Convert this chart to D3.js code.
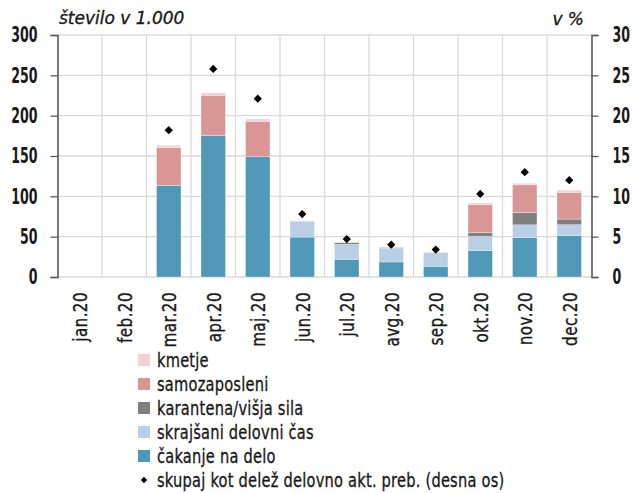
<!DOCTYPE html>
<html>
<head>
<meta charset="utf-8">
<script src="https://cdn.jsdelivr.net/npm/d3@7"></script>
<style>
  body { margin: 0; background: #fff; }
  svg { display: block; }
  text { font-family: "DejaVu Sans", sans-serif; fill: #1a1a1a; }
  .heavy { stroke: #1a1a1a; stroke-width: 0.35px; }
</style>
</head>
<body>
<div id="chart"></div>
<script>
// data
const months = ["jan.20", "feb.20", "mar.20", "apr.20", "maj.20", "jun.20", "jul.20", "avg.20", "sep.20", "okt.20", "nov.20", "dec.20"];
const cakanje = [0, 0, 113.5, 175.5, 149, 49.5, 22, 18.6, 13.2, 33, 48.7, 51.6];
const skrajsani = [0, 0, 0, 0, 0, 19.8, 18.5, 17, 16, 17.3, 16, 13.2];
const karantena = [0, 0, 0, 0, 0, 0, 2, 0.8, 0.8, 5, 15.3, 7];
const samozaposleni = [0, 0, 47, 49.8, 44, 0, 0, 0, 0, 34.3, 34.2, 33];
const kmetje = [0, 0, 2.9, 2.9, 2.9, 0.5, 0, 0, 0, 2.4, 2.1, 2.9];
const skupaj = [null, null, 18.2, 25.8, 22.1, 7.8, 4.7, 4.0, 3.4, 10.3, 13.0, 12.0];
const leftTicks = [0, 50, 100, 150, 200, 250, 300];
const rightTicks = [0, 5, 10, 15, 20, 25, 30];

const seriesKeys = ["cakanje", "skrajsani", "karantena", "samozaposleni", "kmetje"];
const seriesNames = {
  kmetje: "kmetje",
  samozaposleni: "samozaposleni",
  karantena: "karantena/višja sila",
  skrajsani: "skrajšani delovni čas",
  cakanje: "čakanje na delo"
};
const colors = {
  cakanje: "#4f98b8",
  skrajsani: "#b9cfe6",
  karantena: "#7f7f7f",
  samozaposleni: "#d99694",
  kmetje: "#f2d2d4"
};

const width = 633, height = 493;
const margin = {top: 35, right: 41.5, bottom: 216, left: 57.5};
const innerH = height - margin.top - margin.bottom;

// no condensed font installed, so texts get squeezed horizontally
const tickSqueeze = 0.6, labelSqueeze = 0.8, legendSqueeze = 0.75;

const svg = d3.select("#chart").append("svg")
  .attr("width", width)
  .attr("height", height);

const table = months.map((m, i) => ({
  month: m,
  cakanje: cakanje[i],
  skrajsani: skrajsani[i],
  karantena: karantena[i],
  samozaposleni: samozaposleni[i],
  kmetje: kmetje[i],
  skupaj: skupaj[i]
}));

const x = d3.scaleBand()
  .domain(months)
  .range([margin.left, width - margin.right])
  .paddingInner(0).paddingOuter(0);

const y = d3.scaleLinear().domain([0, 300]).range([margin.top + innerH, margin.top]);
const y2 = d3.scaleLinear().domain([0, 30]).range([margin.top + innerH, margin.top]);

// grid
const grid = svg.append("g").attr("stroke", "#dadada").attr("stroke-width", 1.3);
grid.selectAll("line.h").data(leftTicks).enter().append("line")
  .attr("x1", margin.left).attr("x2", width - margin.right)
  .attr("y1", d => y(d)).attr("y2", d => y(d));
grid.selectAll("line.v").data(months.slice(1)).enter().append("line")
  .attr("x1", d => x(d)).attr("x2", d => x(d))
  .attr("y1", margin.top).attr("y2", y(0));

// stacked bars
const stack = d3.stack().keys(seriesKeys);
const layers = stack(table);
const barW = x.bandwidth() * 0.55;

svg.append("g").selectAll("g")
  .data(layers)
  .enter().append("g")
  .attr("fill", d => colors[d.key])
  .selectAll("rect")
  .data(d => d)
  .enter().append("rect")
  .attr("x", d => x(d.data.month) + (x.bandwidth() - barW) / 2)
  .attr("y", d => y(d[1]))
  .attr("width", barW)
  .attr("height", d => Math.max(0, y(d[0]) - y(d[1])))
  .attr("stroke", "#fff")
  .attr("stroke-width", 0.5)
  .attr("stroke-opacity", 0.6);

// diamonds on right axis scale
const diamond = d3.symbol().type(d3.symbolSquare).size(34);
svg.append("g").selectAll("path")
  .data(table.filter(d => d.skupaj != null))
  .enter().append("path")
  .attr("d", diamond)
  .attr("fill", "#000")
  .attr("transform", d => "translate(" + (x(d.month) + x.bandwidth() / 2) + "," + y2(d.skupaj) + ") rotate(45)");

// axes
const leftAxis = d3.axisLeft(y).tickValues(leftTicks).tickSize(7).tickPadding(13).tickSizeOuter(7);
const rightAxis = d3.axisRight(y2).tickValues(rightTicks).tickSize(7).tickPadding(14).tickSizeOuter(7);

function styleAxis(g) {
  g.attr("font-family", null).attr("font-size", null);
  g.select(".domain").attr("stroke", "#595959").attr("stroke-width", 1.6);
  g.selectAll(".tick line").attr("stroke", "#595959").attr("stroke-width", 1.3);
  g.selectAll(".tick text")
    .style("font-size", "21px")
    .style("font-weight", "bold")
    .attr("fill", "#1a1a1a")
    .each(function() {
      const t = d3.select(this);
      const tx = +t.attr("x");
      t.attr("x", 0).attr("transform", "translate(" + tx + ",0) scale(" + tickSqueeze + ",1)");
    });
}

svg.append("g")
  .attr("transform", "translate(" + margin.left + ",0)")
  .call(leftAxis)
  .call(styleAxis);

svg.append("g")
  .attr("transform", "translate(" + (width - margin.right) + ",0)")
  .call(rightAxis)
  .call(styleAxis);

// x labels, rotated
svg.append("g").selectAll("text")
  .data(months)
  .enter().append("text")
  .attr("class", "heavy")
  .attr("transform", d => "translate(" + (x(d) + x.bandwidth() / 2 + 1) + "," + (y(0) + 15) + ") rotate(-90) scale(" + labelSqueeze + ",1)")
  .attr("text-anchor", "end")
  .attr("dy", "0.35em")
  .style("font-size", "19px")
  .style("letter-spacing", "0.5px")
  .text(d => d);

// axis titles
svg.append("text")
  .attr("class", "heavy")
  .attr("x", 59).attr("y", 24)
  .style("font-size", "17px")
  .style("font-style", "italic")
  .text("število v 1.000");

svg.append("text")
  .attr("class", "heavy")
  .attr("x", 584).attr("y", 25)
  .attr("text-anchor", "end")
  .style("font-size", "17px")
  .style("font-style", "italic")
  .text("v %");

// legend
const legendKeys = ["kmetje", "samozaposleni", "karantena", "skrajsani", "cakanje"];
const legend = svg.append("g").attr("transform", "translate(138,360)");
const rowH = 24;

legendKeys.forEach((k, i) => {
  const row = legend.append("g").attr("transform", "translate(0," + (i * rowH) + ")");
  row.append("rect").attr("x", 0).attr("y", -6).attr("width", 12).attr("height", 12).attr("fill", colors[k]);
  row.append("text")
    .attr("class", "heavy")
    .attr("transform", "translate(19,0) scale(" + legendSqueeze + ",1)")
    .attr("dy", "0.35em")
    .style("font-size", "19.5px").style("letter-spacing", "0.3px")
    .text(seriesNames[k]);
});

const lastRow = legend.append("g").attr("transform", "translate(0," + (legendKeys.length * rowH) + ")");
lastRow.append("path")
  .attr("d", d3.symbol().type(d3.symbolSquare).size(20))
  .attr("transform", "translate(6,0) rotate(45)")
  .attr("fill", "#000");
lastRow.append("text")
  .attr("class", "heavy")
  .attr("transform", "translate(19,0) scale(" + legendSqueeze + ",1)")
  .attr("dy", "0.35em")
  .style("font-size", "19.5px").style("letter-spacing", "0.3px")
  .text("skupaj kot delež delovno akt. preb. (desna os)");
</script>
</body>
</html>
